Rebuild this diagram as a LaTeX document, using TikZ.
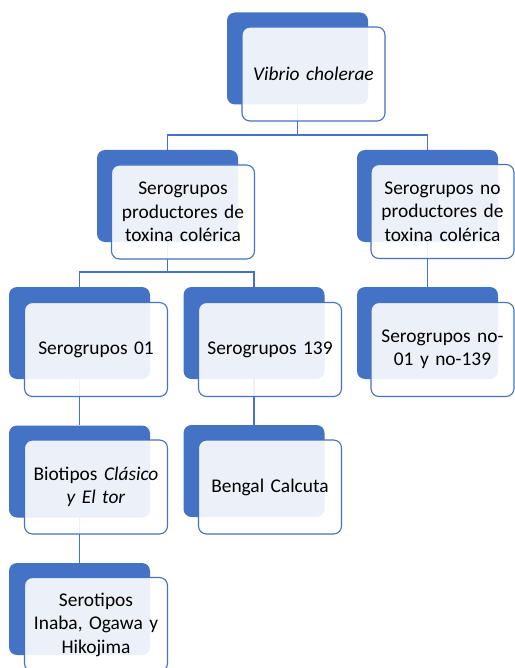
\documentclass[tikz,border=0pt]{standalone}
\usepackage{fontspec}
\setmainfont{Carlito}
\definecolor{accent}{HTML}{4472C4}
\begin{document}
\begin{tikzpicture}[x=1pt,y=-1pt,
  back/.style={draw=none,fill=accent,rounded corners=8pt,minimum width=141pt,minimum height=92pt,inner sep=0pt},
  front/.style={draw=accent,line width=1.1pt,fill=white,fill opacity=0.9,text opacity=1,rounded corners=8pt,
    minimum width=143pt,minimum height=94pt,inner sep=0pt,text width=126pt,align=center,
    font=\fontsize{19.4}{23.5}\selectfont},
  link/.style={draw=accent,line width=1.3pt}]
\useasboundingbox (0,0) rectangle (514,668);
% back shapes
\node[back] (b1) at (297.5,58.5) {};
\node[back] (b2) at (167.5,196) {};
\node[back] (b3) at (427.5,196) {};
\node[back] (b4) at (79.5,333) {};
\node[back] (b5) at (254,333) {};
\node[back] (b6) at (427.5,333) {};
\node[back] (b7) at (79.5,471.5) {};
\node[back] (b8) at (254,471) {};
\node[back] (b9) at (79.5,609) {};
% bus coordinates
\coordinate (j1) at (297.5,135);
\coordinate (j2) at (167.5,272);
% connectors
\draw[link] (b1.south) -- (j1) -| (b2.north);
\draw[link] (j1) -| (b3.north);
\draw[link] (b2.south) -- (j2) -| (b4.north);
\draw[link] (j2) -| (b5.north);
\draw[link] (b3.south) -- (b6.north);
\draw[link] (b4.south) -- (b7.north);
\draw[link] (b5.south) -- (b8.north);
\draw[link] (b7.south) -- (b9.north);
% front shapes
\node[front] (f1) at (313.5,74) {\itshape Vibrio cholerae};
\node[front] (f2) at (183,212) {Serogrupos productores de toxina colérica};
\node[front] (f3) at (442.5,211.5) {Serogrupos no productores de toxina colérica};
\node[front] (f4) at (96,349.5) {Serogrupos 01};
\node[front] (f5) at (270,349.5) {Serogrupos 139};
\node[front] (f6) at (442.5,349.5) {Serogrupos no-\\01 y no-139};
\node[front] (f7) at (96,487) {Biotipos \emph{Clásico}\\ \emph{y El tor}};
\node[front] (f8) at (270,487) {Bengal Calcuta};
\node[front] (f9) at (96,624.5) {Serotipos\\Inaba, Ogawa y\\Hikojima};
\end{tikzpicture}
\end{document}
